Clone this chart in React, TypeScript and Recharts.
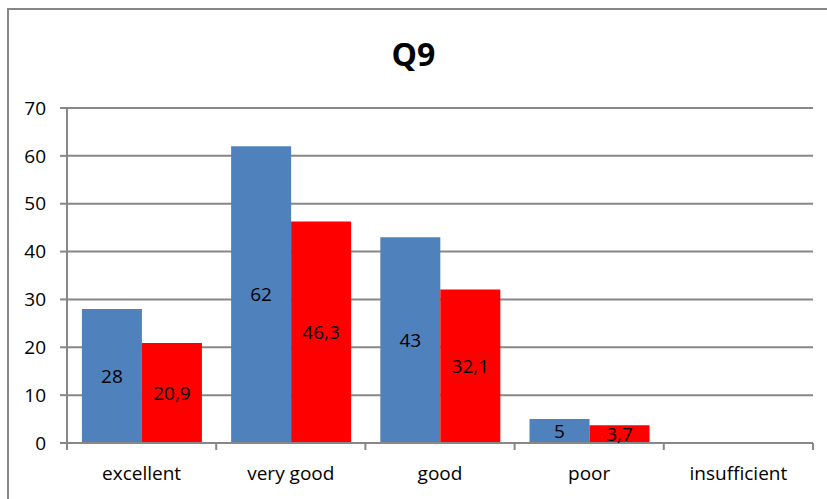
import { BarChart, Bar, XAxis, YAxis, CartesianGrid, LabelList } from 'recharts';

const categories = ['excellent', 'very good', 'good', 'poor', 'insufficient'];
const seriesA = [28, 62, 43, 5, 0];
const seriesB = [20.9, 46.3, 32.1, 3.7, 0];
const yTicks = [0, 10, 20, 30, 40, 50, 60, 70];

const data = categories.map((name, i) => ({ name, a: seriesA[i], b: seriesB[i] }));

const FONT = '"Open Sans", "DejaVu Sans", sans-serif';
const GRAY = '#878787';
const PLOT_LEFT = 67;
const PLOT_RIGHT = 813;
const BAND = (PLOT_RIGHT - PLOT_LEFT) / categories.length;

const fmt = (v: number) => (v === 0 ? '' : String(v).replace('.', ','));

// category labels plus tick marks on the band boundaries, like Excel
function CatTick(props: any) {
  const { x, y, payload, index } = props;
  const half = BAND / 2;
  return (
    <g>
      <line x1={x - half} x2={x - half} y1={y} y2={y + 7} stroke={GRAY} strokeWidth={2} />
      {index === categories.length - 1 && (
        <line x1={x + half} x2={x + half} y1={y} y2={y + 7} stroke={GRAY} strokeWidth={2} />
      )}
      <text x={x} y={y + 37} textAnchor="middle" fontSize={19} fontFamily={FONT} fill="#000">
        {payload.value}
      </text>
    </g>
  );
}

export default function App() {
  return (
    <div style={{ position: 'fixed', left: 0, top: 0, width: 827, height: 499, overflow: 'hidden', background: '#fff' }}>
      <div
        style={{
          position: 'absolute',
          left: 7,
          top: 8,
          width: 840,
          height: 520,
          border: `2px solid ${GRAY}`,
          boxSizing: 'border-box',
        }}
      />
      <div
        style={{
          position: 'absolute',
          left: 0,
          top: 32,
          width: 827,
          textAlign: 'center',
          fontFamily: FONT,
          fontWeight: 'bold',
          fontSize: 32,
          color: '#000',
        }}
      >
        Q9
      </div>
      <div style={{ position: 'absolute', left: 0, top: 0 }}>
        <BarChart
          width={827}
          height={499}
          data={data}
          margin={{ top: 108, right: 827 - PLOT_RIGHT, bottom: 16, left: 0 }}
          barCategoryGap="10%"
          barGap={0}
        >
          <CartesianGrid vertical={false} stroke={GRAY} strokeWidth={2} />
          <XAxis
            dataKey="name"
            height={40}
            tickLine={false}
            tickSize={0}
            tickMargin={0}
            axisLine={{ stroke: GRAY, strokeWidth: 2 }}
            tick={<CatTick />}
            interval={0}
          />
          <YAxis
            width={PLOT_LEFT}
            domain={[0, 70]}
            ticks={yTicks}
            interval={0}
            tickSize={7}
            tickMargin={14}
            axisLine={{ stroke: GRAY, strokeWidth: 2 }}
            tickLine={{ stroke: GRAY, strokeWidth: 2 }}
            tick={{ fill: '#000', fontSize: 19, fontFamily: FONT }}
          />
          <Bar dataKey="a" fill="#4F81BD" isAnimationActive={false}>
            <LabelList dataKey="a" position="center" formatter={fmt} fill="#000" fontSize={19} fontFamily={FONT} />
          </Bar>
          <Bar dataKey="b" fill="#FF0000" isAnimationActive={false}>
            <LabelList dataKey="b" position="center" formatter={fmt} fill="#000" fontSize={19} fontFamily={FONT} />
          </Bar>
        </BarChart>
      </div>
    </div>
  );
}
